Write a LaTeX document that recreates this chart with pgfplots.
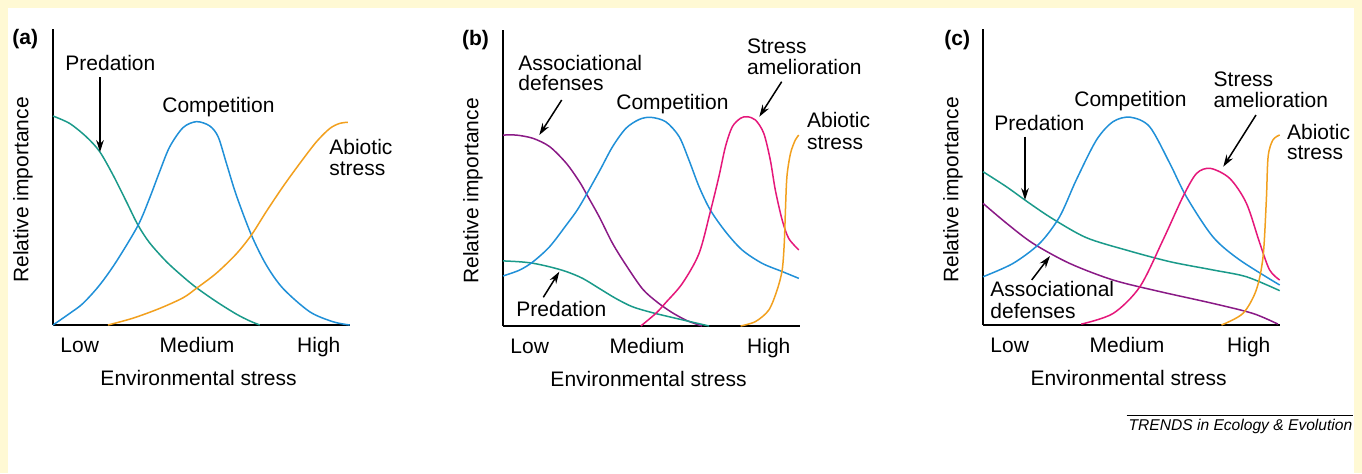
\documentclass[border=0pt]{standalone}
\usepackage{fontspec}
\setmainfont{Liberation Sans}
\usepackage{pgfplots}
\pgfplotsset{compat=1.18}
\usetikzlibrary{arrows.meta}

\definecolor{bgyellow}{RGB}{255,249,212}
\definecolor{cteal}{RGB}{26,154,138}
\definecolor{cblue}{RGB}{32,144,216}
\definecolor{corange}{RGB}{242,160,30}
\definecolor{cpurple}{RGB}{138,26,134}
\definecolor{cmagenta}{RGB}{229,23,122}

\pgfplotsset{
  panel/.style={
    scale only axis, width=148.5pt, height=148pt,
    anchor=south west,
    xmin=0, xmax=10, ymin=0, ymax=10,
    axis x line*=bottom, axis y line*=left,
    axis line style={-, line width=1pt, black},
    xtick={0.9,4.85,8.95}, xticklabels={Low,Medium,High},
    ytick=\empty, major tick length=0pt,
    xticklabel style={anchor=base, yshift=-13.8pt},
    clip=false,
    xlabel={Environmental stress}, ylabel={Relative importance},
    every axis x label/.style={at={(axis description cs:0.49,-0.206)}, anchor=base},
    every axis y label/.style={at={(axis description cs:-0.101,0.456)}, rotate=90, anchor=center},
  },
  curve/.style={line width=0.75pt, smooth, tension=0.5, no marks, #1},
}

\tikzset{lab/.style={anchor=base west, inner sep=0pt, align=left},
  arr/.style={line width=0.75pt, -{Stealth[length=6pt,width=3.8pt]}}}

\begin{document}
\fontsize{10.5}{12.2}\selectfont
\begin{tikzpicture}
% background, pixel units with origin at the top left
\begin{scope}[x=0.5pt, y=-0.5pt]
  \useasboundingbox (0,0) rectangle (1362,473);
  \fill[bgyellow] (0,0) rectangle (1362,473);
  \fill[white] (8,8) rectangle (1354,473);
\end{scope}

% (a)
\begin{axis}[panel, at={(26.5pt,-162.5pt)}]
\addplot[curve=cteal] coordinates {
  (0,7.06) (0.56,6.81) (1.12,6.36) (1.57,5.86) (2.02,5.07) (2.47,4.17) (2.86,3.38)
  (3.25,2.78) (3.82,2.14) (4.38,1.63) (4.83,1.26) (5.5,0.79) (6.17,0.37) (6.62,0.14)
  (6.96,0)};
\addplot[curve=cblue] coordinates {
  (0,0) (0.56,0.39) (1.01,0.73) (1.57,1.35) (2.13,2.14) (2.86,3.36) (3.25,4.28)
  (3.59,5.18) (3.93,6.02) (4.38,6.67) (4.83,6.87) (5.27,6.73) (5.56,6.36) (5.84,5.46)
  (6.17,4.39) (6.68,3.04) (7.18,2.03) (7.74,1.24) (8.64,0.45) (9.43,0.11) (9.99,0)};
\addplot[curve=corange] coordinates {
  (1.85,0) (2.69,0.23) (3.59,0.56) (4.38,0.92) (4.83,1.24) (5.5,1.75) (6.17,2.4)
  (6.68,3.04) (7.18,3.83) (7.74,4.67) (8.31,5.46) (8.87,6.19) (9.32,6.64) (9.65,6.81)
  (9.93,6.85)};
\end{axis}

% (b)
\begin{axis}[panel, at={(251.5pt,-163pt)}]
\addplot[curve=cpurple] coordinates {
  (0,6.45) (0.45,6.45) (1.01,6.34) (1.57,6.06) (2.13,5.5) (2.57,4.88) (2.85,4.39)
  (3.24,3.69) (3.69,2.79) (4.14,2.06) (4.7,1.25) (5.2,0.8) (5.7,0.45) (6.2,0.18)
  (6.7,0)};
\addplot[curve=cteal] coordinates {
  (0,2.2) (0.56,2.17) (1.01,2.12) (1.57,2.0) (2.13,1.84) (2.68,1.61) (3.24,1.27)
  (3.8,0.93) (4.36,0.65) (5.03,0.45) (5.82,0.26) (6.94,0)};
\addplot[curve=cblue] coordinates {
  (0,1.69) (0.56,1.89) (1.01,2.17) (1.57,2.68) (2.13,3.41) (2.57,4.03)
  (3.24,5.22) (3.69,6.06) (4.14,6.68) (4.59,6.98) (4.98,7.05) (5.48,6.9) (5.93,6.4)
  (6.26,5.61) (6.6,4.71) (6.98,3.92) (7.49,3.19) (8.05,2.57) (8.72,2.12) (9.4,1.84)
  (9.96,1.61)};
\addplot[curve=cmagenta] coordinates {
  (4.64,0) (5.15,0.43) (5.48,0.79) (6.04,1.44) (6.6,2.45) (6.98,3.86) (7.27,5.05)
  (7.49,6.06) (7.72,6.73) (8.0,7.02) (8.22,7.07) (8.5,6.96) (8.78,6.51) (9.0,5.61)
  (9.17,4.59) (9.4,3.58) (9.62,2.96) (9.96,2.57)};
\addplot[curve=corange] coordinates {
  (8.0,0) (8.5,0.15) (8.95,0.54) (9.23,1.22) (9.4,1.89) (9.47,2.79) (9.51,3.92)
  (9.56,5.05) (9.68,5.83) (9.84,6.28) (9.96,6.45)};
\end{axis}

% (c)
\begin{axis}[panel, at={(491.5pt,-162.5pt)}]
\addplot[curve=cteal] coordinates {
  (0,5.18) (0.79,4.67) (1.57,4.11) (2.36,3.58) (3.48,2.95) (4.83,2.53) (6.29,2.14)
  (7.74,1.86) (8.87,1.63) (9.99,1.16)};
\addplot[curve=cpurple] coordinates {
  (0,4.11) (0.79,3.44) (1.68,2.76) (2.92,2.08) (4.38,1.52) (5.95,1.13) (7.74,0.73)
  (9.09,0.39) (9.93,0.03)};
\addplot[curve=cblue] coordinates {
  (0,1.63) (1.01,2.08) (1.91,2.76) (2.58,3.66) (3.14,4.9) (3.82,6.25) (4.38,6.87)
  (4.96,7.02) (5.61,6.7) (6.29,5.46) (6.85,4.33) (7.74,2.98) (8.64,2.2) (9.99,1.35)};
\addplot[curve=cmagenta] coordinates {
  (3.31,0.03) (4.38,0.39) (5.28,1.29) (6.06,2.87) (6.73,4.33) (7.19,5.12) (7.66,5.29)
  (8.31,4.95) (8.87,4.11) (9.32,2.76) (9.65,1.86) (9.99,1.52)};
\addplot[curve=corange] coordinates {
  (8.03,0) (8.75,0.39) (9.2,1.18) (9.43,2.31) (9.54,4.22) (9.6,5.69) (9.76,6.25)
  (9.99,6.42)};
\end{axis}

% labels and arrows, pixel units
\begin{scope}[x=0.5pt, y=-0.5pt]
  \node[lab, font=\bfseries] at (12,44.5) {(a)};
  \node[lab, font=\bfseries] at (461.7,45) {(b)};
  \node[lab, font=\bfseries] at (944,45) {(c)};

  % (a)
  \node[lab] at (65,70) {Predation};
  \draw[arr] (100,77) -- (100,152);
  \node[lab] at (162,112) {Competition};
  \node[lab] at (329,154) {Abiotic};
  \node[lab] at (329,175.5) {stress};

  % (b)
  \node[lab] at (518,70) {Associational};
  \node[lab] at (518,90.7) {defenses};
  \draw[arr] (561.7,100) -- (539.3,135);
  \node[lab] at (616,109) {Competition};
  \node[lab] at (746.7,53.3) {Stress};
  \node[lab] at (746.7,74) {amelioration};
  \draw[arr] (781.7,81.7) -- (759.3,116.7);
  \node[lab] at (806.7,127.3) {Abiotic};
  \node[lab] at (806.7,149.3) {stress};
  \node[lab] at (516,316.7) {Predation};
  \draw[arr] (543.3,297.3) -- (559.3,271.7);

  % (c)
  \node[lab] at (1074,106) {Competition};
  \node[lab] at (994,130) {Predation};
  \draw[arr] (1025,136.7) -- (1025,200);
  \node[lab] at (1213.3,86.7) {Stress};
  \node[lab] at (1213.3,107.3) {amelioration};
  \draw[arr] (1256,115) -- (1223.3,166.7);
  \node[lab] at (1286.7,139.3) {Abiotic};
  \node[lab] at (1286.7,159.3) {stress};
  \node[lab] at (990,296.7) {Associational};
  \node[lab] at (990,318.3) {defenses};
  \draw[arr] (1031.7,280) -- (1050,256);

  % source line
  \draw[line width=0.5pt] (1126.7,415.7) -- (1352.7,415.7);
  \node[anchor=base east, inner sep=0pt, font=\fontsize{7.8}{9}\selectfont\itshape] at (1352.7,430.7) {TRENDS in Ecology \& Evolution};
\end{scope}
\end{tikzpicture}
\end{document}
